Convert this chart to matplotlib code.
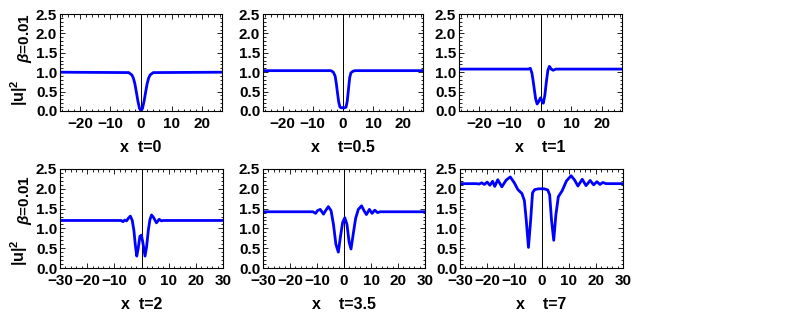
import matplotlib
matplotlib.use('Agg')
import matplotlib.pyplot as plt
from matplotlib.ticker import MultipleLocator, FormatStrFormatter

plt.rcParams['font.family'] = ['Liberation Sans', 'DejaVu Sans']
plt.rcParams['font.weight'] = 'bold'
plt.rcParams['mathtext.fontset'] = 'custom'
plt.rcParams['mathtext.rm'] = 'Liberation Sans:bold'
plt.rcParams['mathtext.it'] = 'Liberation Sans:italic:bold'
plt.rcParams['mathtext.bf'] = 'Liberation Sans:bold'

# |u|^2 profiles, beta = 0.01
x_t0 = [-26.5, -4.0, -3.0, -2.5, -2.0, -1.5, -1.0, -0.5, 0.0, 0.5, 1.0, 1.5, 2.0, 2.5, 3.0, 4.0, 26.5]
y_t0 = [1.0, 0.99, 0.93, 0.85, 0.70, 0.48, 0.25, 0.07, 0.0, 0.07, 0.25, 0.48, 0.70, 0.85, 0.93, 0.99, 1.0]

x_t05 = [-26.5, -4.0, -3.2, -2.6, -2.2, -1.8, -1.4, -1.0, -0.5, 0.0, 0.5, 1.0, 1.4, 1.8, 2.2, 2.6, 3.2, 4.0, 26.5]
y_t05 = [1.04, 1.04, 1.0, 0.9, 0.7, 0.45, 0.22, 0.1, 0.08, 0.09, 0.08, 0.1, 0.25, 0.55, 0.85, 0.98, 1.02, 1.04, 1.04]

x_t1 = [-26.5, -4.0, -3.3, -2.8, -2.4, -2.0, -1.6, -1.1, -0.6, 0.0, 0.4, 0.9, 1.4, 1.9, 2.4, 2.9, 3.5, 4.1, 5.0, 26.5]
y_t1 = [1.08, 1.08, 1.10, 0.98, 0.78, 0.55, 0.32, 0.18, 0.24, 0.34, 0.27, 0.2, 0.4, 0.75, 1.05, 1.15, 1.08, 1.05, 1.08, 1.08]

x_t2 = [-30, -7.5, -6.8, -6.2, -5.5, -4.8, -4.1, -3.4, -2.8, -2.3, -1.75, -1.2, -0.6, 0.0, 0.6, 1.3, 1.9, 2.5, 3.1, 3.7, 4.4, 5.5, 6.5, 7.3, 8.0, 30]
y_t2 = [1.2, 1.2, 1.17, 1.21, 1.19, 1.26, 1.31, 1.2, 0.95, 0.6, 0.3, 0.5, 0.8, 0.83, 0.6, 0.3, 0.55, 0.95, 1.22, 1.34, 1.28, 1.14, 1.23, 1.19, 1.2, 1.2]

x_t35 = [-30, -11.5, -10.5, -9.8, -8.8, -7.6, -6.8, -5.8, -4.8, -3.9, -3.0, -2.1, -1.3, -0.5, 0.3, 1.1, 1.9, 2.6, 3.4, 4.3, 5.3, 6.5, 7.4, 8.3, 9.4, 10.4, 11.4, 12.4, 13.5, 30]
y_t35 = [1.42, 1.42, 1.38, 1.45, 1.48, 1.36, 1.45, 1.55, 1.45, 1.1, 0.6, 0.4, 0.8, 1.15, 1.27, 1.1, 0.65, 0.48, 0.85, 1.25, 1.48, 1.57, 1.45, 1.35, 1.48, 1.38, 1.46, 1.4, 1.42, 1.42]

x_t7 = [-30, -24, -23, -22, -21, -20, -19, -18, -17.2, -16.1, -14.6, -13, -11.5, -10, -8.7, -7.2, -6.3, -5.6, -4.8, -4.0,
        -3.3, -2.5, -1, 0, 1, 2.3, 3.0, 3.7, 4.5, 5.3, 6.2, 7.6, 9.2, 10.9, 12.2, 13.4, 15, 16.4, 17.9, 19.2, 20.4,
        21.5, 22.6, 23.8, 30]
y_t7 = [2.13, 2.13, 2.12, 2.15, 2.11, 2.17, 2.09, 2.19, 2.06, 2.23, 2.05, 2.22, 2.3, 2.15, 1.98, 1.88, 1.7, 1.2, 0.52, 1.2,
        1.9, 1.98, 2.0, 2.0, 2.0, 1.97, 1.85, 1.2, 0.7, 1.35, 1.8, 1.95, 2.2, 2.33, 2.22, 2.07, 2.24, 2.08, 2.21, 2.1, 2.18,
        2.11, 2.16, 2.13, 2.13]

xs = [x_t0, x_t05, x_t1, x_t2, x_t35, x_t7]
ys = [y_t0, y_t05, y_t1, y_t2, y_t35, y_t7]
xlabels = ['x  t=0', 'x    t=0.5', 'x    t=1', 'x  t=2', 'x    t=3.5', 'x    t=7']
xlims = [26.5, 26.5, 26.5, 30, 30, 30]

W, H = 788, 320
fig = plt.figure(figsize=(W / 100, H / 100), dpi=100)

# axes boxes in pixels: left, top, width, height
boxes = [(60, 14, 162, 97), (263, 14, 160, 97), (459, 14, 163, 97),
         (60, 169, 163, 99), (263, 169, 162, 99), (460, 169, 163, 99)]

for i, (l, t, w, h) in enumerate(boxes):
    ax = fig.add_axes([l / W, 1 - (t + h) / H, w / W, h / H])
    ax.axvline(0, color='k', lw=0.7)
    ax.plot(xs[i], ys[i], color='#0000ff', lw=2.0)
    ax.set_xlim(-xlims[i], xlims[i])
    ax.set_ylim(0, 2.5)
    ax.xaxis.set_major_locator(MultipleLocator(10))
    ax.xaxis.set_minor_locator(MultipleLocator(2))
    ax.yaxis.set_major_locator(MultipleLocator(0.5))
    ax.yaxis.set_minor_locator(MultipleLocator(0.1))
    ax.yaxis.set_major_formatter(FormatStrFormatter('%.1f'))
    ax.tick_params(which='both', direction='in', top=True, right=True, width=0.6)
    ax.tick_params(axis='x', labelsize=11, pad=4)
    ax.tick_params(axis='y', labelsize=11, pad=2)
    ax.tick_params(which='major', length=3.5)
    ax.tick_params(which='minor', length=1.8)
    for s in ax.spines.values():
        s.set_linewidth(0.8)
    ax.set_xlabel(xlabels[i], fontsize=11.5, fontweight='bold', labelpad=7)

# left-hand labels
for yc_beta, yc_u in [(38, 93), (200, 253)]:
    fig.text(25 / W, 1 - yc_beta / H, r'$\beta$=0.01', rotation=90, fontsize=11,
             fontweight='bold', ha='center', va='center')
    fig.text(19 / W, 1 - yc_u / H, r'$\mathbf{|u|^2}$', rotation=90, fontsize=11.5,
             ha='center', va='center')

fig.savefig('out.png', dpi=100)
